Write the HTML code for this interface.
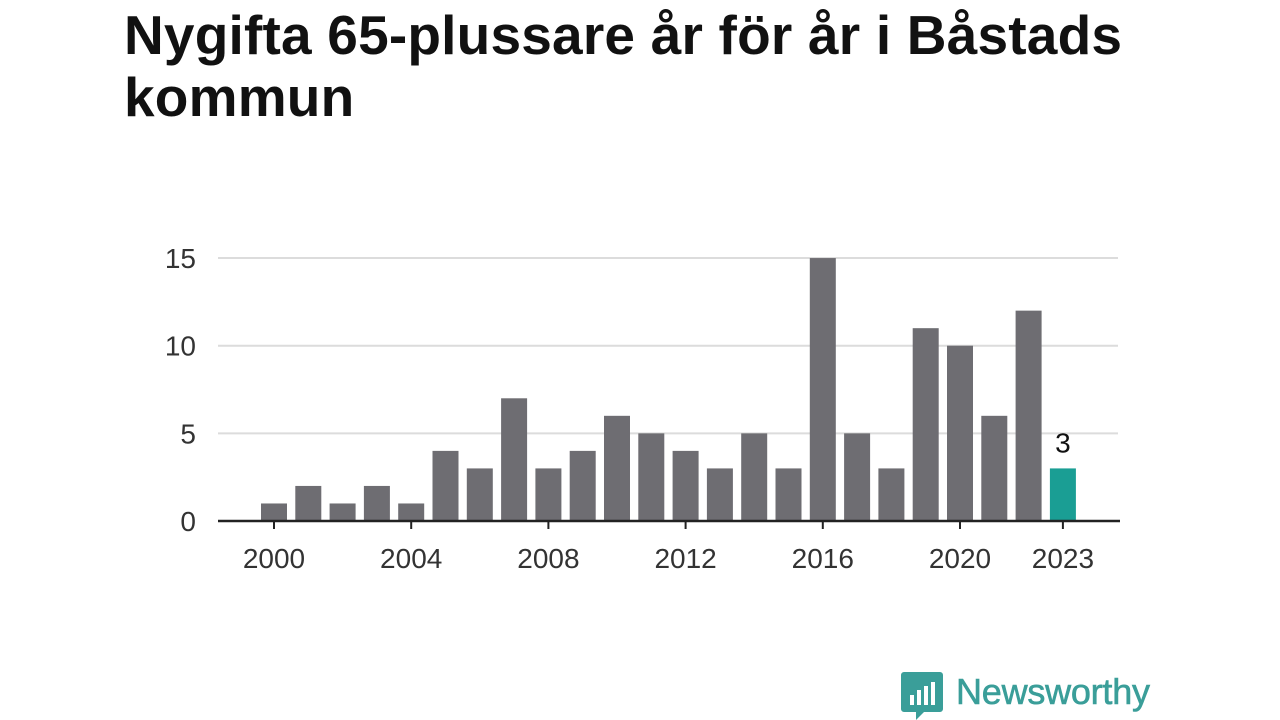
<!DOCTYPE html>
<html><head><meta charset="utf-8">
<style>
body{margin:0;width:1280px;height:720px;background:#fff;overflow:hidden;font-family:"Liberation Sans","DejaVu Sans",sans-serif;}
h1{position:absolute;left:124px;top:4px;margin:0;font-size:55px;line-height:62px;font-weight:bold;color:#111;width:1120px;letter-spacing:0.2px}
svg{position:absolute;left:0;top:0}
</style></head><body>
<h1>Nygifta 65-plussare år för år i Båstads kommun</h1>
<svg id="chart" width="1280" height="720"></svg>
<script>
const years=[2000,2001,2002,2003,2004,2005,2006,2007,2008,2009,2010,2011,2012,2013,2014,2015,2016,2017,2018,2019,2020,2021,2022,2023];
const values=[1,2,1,2,1,4,3,7,3,4,6,5,4,3,5,3,15,5,3,11,10,6,12,3];
const yTicks=[0,5,10,15];
const xTicks=[2000,2004,2008,2012,2016,2020,2023];
const NS="http://www.w3.org/2000/svg";
const svg=document.getElementById('chart');
const x=y=>274+(y-2000)*34.3;
const yS=v=>521-v*17.53;
function mk(t,a){const e=document.createElementNS(NS,t);for(const k in a)e.setAttribute(k,a[k]);svg.appendChild(e);return e;}
yTicks.forEach(v=>{
 if(v>0){const g=mk('line',{x1:218,x2:1118,y1:yS(v),y2:yS(v),stroke:'#dcdcdc','stroke-width':2});
 
 }
 const t=mk('text',{x:196,y:yS(v)+10,'text-anchor':'end','font-size':28,fill:'#333'});t.textContent=v;
 
 
});
years.forEach((yr,i)=>{
 const last=i===years.length-1;
 const r=mk('rect',{x:x(yr)-13,y:yS(values[i]),width:26,height:values[i]*17.53,fill:last?'#1a9e94':'#6e6d72'});
 
 
 if(last){const t=mk('text',{x:x(yr),y:yS(values[i])-16,'text-anchor':'middle','font-size':28,fill:'#111'});t.textContent=values[i];
 
 }
});
const ax=mk('line',{x1:218,x2:1120,y1:521,y2:521,stroke:'#222','stroke-width':2.5});


xTicks.forEach(yr=>{
 const tk=mk('line',{x1:x(yr),x2:x(yr),y1:521,y2:529,stroke:'#222','stroke-width':2});
 
 
 const t=mk('text',{x:x(yr),y:568,'text-anchor':'middle','font-size':28,fill:'#333'});t.textContent=yr;
 
 
});
</script>
<svg width="1280" height="720" style="pointer-events:none">
 <path d="M904 672 h36 a3 3 0 0 1 3 3 v34 a3 3 0 0 1 -3 3 h-16 l-8 8 v-8 h-12 a3 3 0 0 1 -3 -3 v-34 a3 3 0 0 1 3 -3z" fill="#3a9e99"/>
 <rect x="910" y="695" width="4" height="10" fill="#fff"/><rect x="917" y="690" width="4" height="15" fill="#fff"/><rect x="924" y="686" width="4" height="19" fill="#fff"/><rect x="931" y="682" width="4" height="23" fill="#fff"/>
 <text x="956" y="704" font-size="36" fill="#3a9e99" font-family="Liberation Sans, sans-serif" textLength="194" style="stroke:#3a9e99;stroke-width:0.6">Newsworthy</text>
</svg>
</body></html>
